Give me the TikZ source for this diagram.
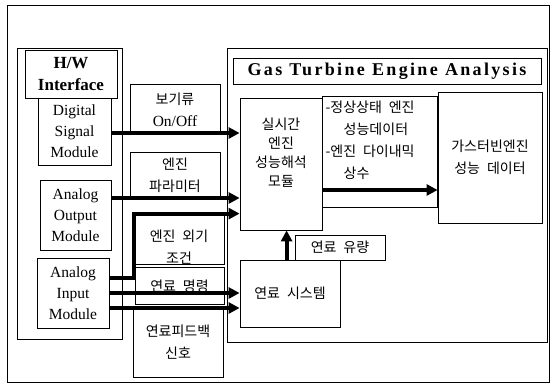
\documentclass[tikz,border=0pt]{standalone}
\usepackage{fontspec}
\setmainfont{Liberation Serif}
\newfontfamily\kr[WordSpace=2.2]{Noto Sans CJK KR}
\newfontfamily\titlefont[LetterSpace=13]{Liberation Serif}
\usetikzlibrary{arrows.meta,positioning}

\begin{document}
\begin{tikzpicture}[x=1pt,y=-1pt,
  box/.style={draw,rectangle,inner sep=0pt,line width=0.8pt},
  latin/.style={align=center,font=\fontsize{15.5}{21}\selectfont},
  hangul/.style={align=center,font=\kr\fontsize{14}{22}\selectfont},
  sig/.style={line width=4.2pt,-{Triangle[length=11pt,width=11pt]}}]
\useasboundingbox (0,0) rectangle (554,391);
\node[box,minimum width=542pt,minimum height=377pt] (frame) at (278,193.5) {};
% H/W interface side
\node[box,minimum width=105pt,minimum height=291pt] (hw) at (69.5,193.5) {};
\node[box,minimum width=92pt,minimum height=48pt,align=center,font=\bfseries\fontsize{17}{22}\selectfont] (hwtitle) at (71,74) {H/W\\Interface};
\node[box,latin,minimum width=73pt,minimum height=67pt] (dsm) at (74.5,131.5) {Digital\\Signal\\Module};
\node[box,latin,minimum width=71pt,minimum height=70pt] (aom) at (75.5,215) {Analog\\Output\\Module};
\node[box,latin,minimum width=72pt,minimum height=70pt] (aim) at (73,293) {Analog\\Input\\Module};
% signal labels
\node[box,minimum width=90pt,minimum height=50pt] (onoff) at (175,109) {};
\node[hangul] (onofftxt) at (175,110) {보기류\\{\rmfamily\fontsize{15.5}{22}\selectfont On/Off}};
\node[box,hangul,minimum width=90pt,minimum height=46pt] (param) at (175,175) {엔진\\파라미터};
\node[box,minimum width=90pt,minimum height=50pt] (ambient) at (179,239) {};
\node[hangul] (ambienttxt) at (179,247) {엔진 외기\\조건};
\node[box,hangul,minimum width=89pt,minimum height=37pt] (fuelcmd) at (179.5,286) {연료 명령};
\node[box,hangul,minimum width=90pt,minimum height=70pt] (fuelfb) at (178,342) {연료피드백\\신호};
% engine analysis side
\node[box,minimum width=320pt,minimum height=294pt] (gta) at (387,195) {};
\node[box,minimum width=308pt,minimum height=26pt,font=\titlefont\bfseries\fontsize{18}{20}\selectfont] (gtatitle) at (387,71) {Gas\hspace{0.4em}Turbine\hspace{0.4em}Engine\hspace{0.4em}Analysis};
\node[box,minimum width=82pt,minimum height=132pt] (rtm) at (281,164) {};
\node[hangul,font=\kr\fontsize{14}{19}\selectfont] (rtmtxt) at (281,153) {실시간\\엔진\\성능해석\\모듈};
\node[box,minimum width=115pt,minimum height=111pt] (ssd) at (379.5,151.5) {};
\node[hangul,align=left,anchor=west] (ssdtxt) at (322,140) {-정상상태 엔진\\\hspace*{1.3em}성능데이터\\-엔진 다이내믹\\\hspace*{1.3em}상수};
\node[box,hangul,minimum width=104pt,minimum height=131pt] (perf) at (490,157.5) {가스터빈엔진\\성능 데이터};
\node[box,hangul,minimum width=90pt,minimum height=25pt] (flow) at (340,247.5) {연료 유량};
\node[box,hangul,minimum width=100pt,minimum height=67pt] (fuel) at (290,293.5) {연료 시스템};
% signal arrows
\draw[sig] ([yshift=-1.5pt]dsm.east) -- ([yshift=-1.5pt]dsm.east -| rtm.west);
\draw[sig] ([yshift=17pt]aom.east) -- ([yshift=17pt]aom.east -| rtm.west);
\draw[sig] ([yshift=15pt]aim.east) -| (ambient.north west) -- (ambient.north west -| rtm.west);
\draw[sig] (aim.east) -- (aim.east -| fuel.west);
\draw[sig] ([yshift=-15pt]aim.east) -- ([yshift=-15pt]aim.east -| fuel.west);
\draw[sig] ([yshift=-26pt]rtm.east) -- ([yshift=-26pt]rtm.east -| perf.west);
\draw[sig] ([xshift=-8pt]flow.west |- fuel.north) -- ([xshift=-8pt]flow.west |- rtm.south);
\end{tikzpicture}
\end{document}
